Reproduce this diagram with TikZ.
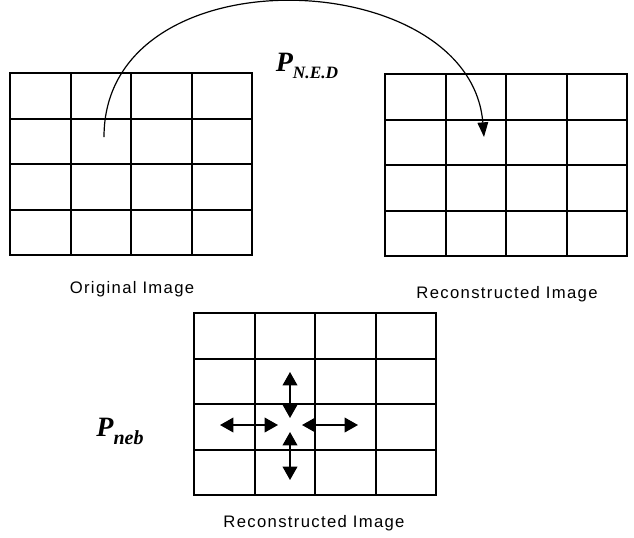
\documentclass[tikz,border=0pt]{standalone}
\usepackage{fontspec}
\setmainfont{Liberation Serif}
\newfontfamily\labelfont[LetterSpace=8]{Liberation Sans}
\usetikzlibrary{arrows.meta}
\tikzset{
  grid line/.style={line width=1.5pt,draw=black,line cap=rect},
  jump arrow/.style={-{Triangle[length=11pt,width=8pt]},line width=0.9pt},
  move arrow/.style={{Triangle[length=10pt,width=11pt]}-{Triangle[length=10pt,width=11pt]},line width=1.1pt},
  image label/.style={font=\labelfont\fontsize{12.5}{14}\selectfont,inner sep=0pt},
  prob label/.style={font=\bfseries\itshape\fontsize{21}{24}\selectfont,inner sep=0pt}
}

\begin{document}
\begin{tikzpicture}[x=0.75pt,y=-0.75pt]
  \useasboundingbox (0,0) rectangle (634,537);
  % the three 4x4 images
  \foreach \gx/\gy in {10/73,385/74,194/313} {
    \draw[grid line] (\gx,\gy) rectangle ++(242,182);
    \foreach \i in {1,2,3} {
      \draw[grid line] (\gx+\i*60.5,\gy) -- ++(0,182);
      \draw[grid line] (\gx,\gy+\i*45.5) -- ++(242,0);
    }
  }
  \node[image label] (orig) at (132,289) {Original Image};
  \node[image label] (recA) at (507,294) {Reconstructed Image};
  \node[image label] (recB) at (314,523) {Reconstructed Image};
  % pixel jump between images
  \coordinate (src) at (104,137);
  \coordinate (dst) at (484,137);
  \draw[jump arrow] (src) .. controls (104,-50) and (470,-36) .. (dst);
  \node[prob label] (ned) at (307,66) {P\raisebox{-5pt}{\fontsize{13}{14}\selectfont N.E.D}};
  % neighbourhood moves
  \node[prob label] (neb) at (120,431) {P\raisebox{-6pt}{\fontsize{15}{16}\selectfont neb}};
  \coordinate (up) at (290,372);
  \coordinate (upmid) at (290,418);
  \coordinate (downmid) at (290,432);
  \coordinate (down) at (290,480);
  \coordinate (left) at (220,425);
  \coordinate (leftmid) at (278,425);
  \coordinate (rightmid) at (302,425);
  \coordinate (right) at (358,425);
  \draw[move arrow] (up) -- (upmid);
  \draw[move arrow] (downmid) -- (down);
  \draw[move arrow] (left) -- (leftmid);
  \draw[move arrow] (rightmid) -- (right);
\end{tikzpicture}
\end{document}
